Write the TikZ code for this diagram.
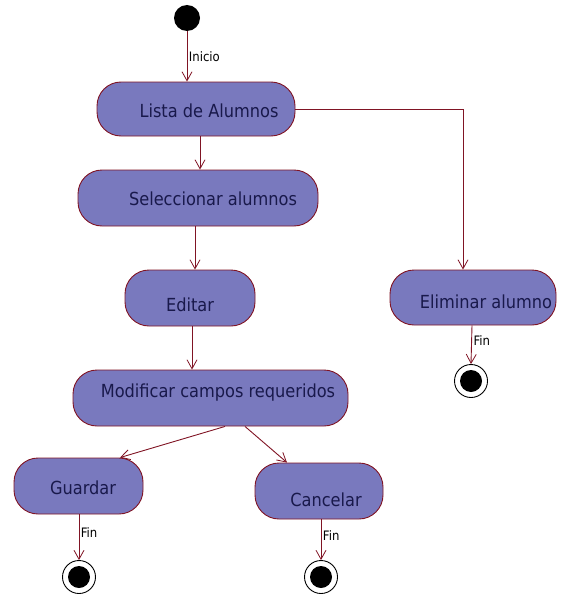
\documentclass[tikz,border=0pt]{standalone}
\usepackage{fontspec}
\setmainfont{DejaVu Sans}
\newfontfamily\condfont{DejaVu Sans Condensed}
\usetikzlibrary{arrows.meta,calc}
\definecolor{actfill}{RGB}{121,121,190}
\definecolor{edgecol}{RGB}{128,20,36}
\definecolor{txtcol}{RGB}{25,25,75}
\begin{document}
\begin{tikzpicture}[x=1pt,y=-1pt,
 act/.style={draw=edgecol, fill=actfill, rounded corners=24pt, line width=0.9pt, inner sep=0pt},
 lbl/.style={text=txtcol, font=\condfont\fontsize{18}{20}\selectfont, inner sep=0pt},
 flow/.style={draw=edgecol, line width=0.9pt, -{Straight Barb[length=9pt,width=10pt,line width=0.8pt]}},
 elab/.style={font=\condfont\fontsize{13}{15}\selectfont, text=black, inner sep=1.5pt},
 initnode/.style={circle, fill=black, minimum size=26pt, inner sep=0pt},
 finalnode/.style={circle, draw=black, line width=0.9pt, fill=white, minimum size=33pt, inner sep=0pt,
   path picture={\fill[black] (path picture bounding box.center) circle (11pt);}}]
\useasboundingbox (0,0) rectangle (571,594);

\node[initnode] (start) at (187,18) {};

\node[act, minimum width=198pt, minimum height=54pt] (lista) at (196,109) {};
\node[lbl] (listat) at (209,111) {Lista de Alumnos};

\node[act, minimum width=240pt, minimum height=56pt] (sel) at (198,198) {};
\node[lbl] (selt) at (213,199) {Seleccionar alumnos};

\node[act, minimum width=130pt, minimum height=56pt] (edit) at (190,298) {};
\node[lbl] (editt) at (190,305) {Editar};

\node[act, minimum width=275pt, minimum height=56pt] (mod) at (210.5,398) {};
\node[lbl] (modt) at (218,393) {Modificar campos requeridos};

\node[act, minimum width=129pt, minimum height=56pt] (guard) at (78.5,486) {};
\node[lbl] (guardt) at (83,488) {Guardar};

\node[act, minimum width=128pt, minimum height=56pt] (canc) at (319,491) {};
\node[lbl] (canct) at (326,500) {Cancelar};

\node[act, minimum width=166pt, minimum height=55pt] (elim) at (473,297.5) {};
\node[lbl] (elimt) at (486,302) {Eliminar alumno};

\node[finalnode] (end1) at (79,577) {};
\node[finalnode] (end2) at (321,577) {};
\node[finalnode] (end3) at (471,381) {};

\draw[flow] (start) -- (start |- lista.north) node[midway, right, elab] {Inicio};
\draw[flow] ([xshift=4pt]lista.south) -- ([xshift=2pt]sel.north);
\draw[flow] ([xshift=-3pt]sel.south) -- ([xshift=5pt]edit.north);
\draw[flow] ([xshift=2pt]edit.south) -- ([xshift=-18.5pt]mod.north);
\draw[flow] ([xshift=14.5pt]mod.south) -- ([xshift=41.5pt]guard.north);
\draw[flow] ([xshift=34.5pt]mod.south) -- ([xshift=-32pt]canc.north);
\draw[flow] (lista.east) -| ([xshift=-10pt]elim.north);
\draw[flow] (guard.south -| end1) -- (end1.north) node[pos=0.4, right, elab] {Fin};
\draw[flow] (canc.south -| end2) -- (end2.north) node[pos=0.4, right, elab] {Fin};
\draw[flow] ([xshift=-1pt]elim.south) -- (end3.north) node[pos=0.4, right, elab] {Fin};
\end{tikzpicture}
\end{document}
